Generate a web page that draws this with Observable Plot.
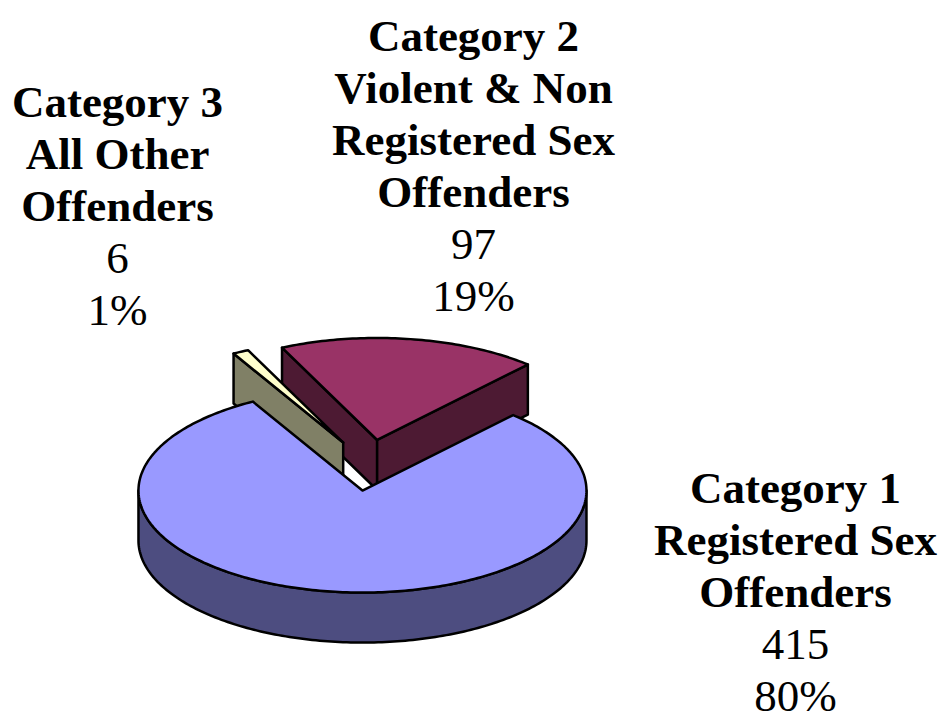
<!DOCTYPE html>
<html>
<head>
<meta charset="utf-8">
<script src="https://cdn.jsdelivr.net/npm/d3@7"></script>
<script src="https://cdn.jsdelivr.net/npm/@observablehq/plot@0.6"></script>
<style>
  html, body { margin: 0; padding: 0; background: #fff; }
  #chart svg { display: block; }
</style>
</head>
<body>
<div id="chart"></div>
<script>
// ---- data ----
const categories = ["Category 1", "Category 2", "Category 3"];
const descriptions = ["Registered Sex\nOffenders", "Violent & Non\nRegistered Sex\nOffenders", "All Other\nOffenders"];
const counts = [415, 97, 6];
const percents = ["80%", "19%", "1%"];

// ---- styles ----
const topColors = ["#9999FF", "#993366", "#FFFFCC"];
const sideColors = ["#4D4D80", "#4D1A33", "#808066"];

// ---- layout ----
const W = 944, H = 711;
const CX = 368.3, CY = 464.7, RX = 224, RY = 102, DEPTH = 50, EXPLODE = 0.25;
const FIRST_ANGLE = 330.7 * Math.PI / 180; // slices run counter-clockwise from here
const labelAnchors = [{x: 795, y: 502}, {x: 473, y: 50}, {x: 117, y: 116}];
const LINE = 52;

const arcs = d3.pie().sort(null).startAngle(FIRST_ANGLE).endAngle(FIRST_ANGLE - 2 * Math.PI)(counts);
const deg = Math.PI / 180;

const slices = arcs.map((a, i) => {
  const lo = Math.min(a.startAngle, a.endAngle), hi = Math.max(a.startAngle, a.endAngle);
  const mid = (lo + hi) / 2;
  const ox = EXPLODE * RX * Math.sin(mid), oy = -EXPLODE * RY * Math.cos(mid);
  const pt = (t, h) => ({x: CX + ox + RX * Math.sin(t), y: CY + oy - RY * Math.cos(t) + DEPTH * h});
  const apex = h => ({x: CX + ox, y: CY + oy + DEPTH * h});
  const arcPts = (a0, a1, h) => {
    const n = Math.max(2, Math.ceil(Math.abs(a1 - a0) / deg));
    return d3.range(n + 1).map(k => pt(a0 + (a1 - a0) * k / n, h));
  };
  const faces = [];
  // radial faces
  if (Math.sin(lo) < 0) faces.push({fill: sideColors[i], pts: [apex(0), pt(lo, 0), pt(lo, 1), apex(1), apex(0)]});
  if (Math.sin(hi) > 0) faces.push({fill: sideColors[i], pts: [apex(0), pt(hi, 0), pt(hi, 1), apex(1), apex(0)]});
  // outer (front) side
  for (const s of [-360, 0, 360]) {
    const f0 = Math.max(lo, (90 + s) * deg), f1 = Math.min(hi, (270 + s) * deg);
    if (f1 > f0) {
      const top = arcPts(f0, f1, 0), bot = arcPts(f1, f0, 1);
      faces.push({fill: sideColors[i], pts: [...top, ...bot, top[0]]});
    }
  }
  // top face
  faces.push({fill: topColors[i], pts: [apex(0), ...arcPts(lo, hi, 0), apex(0)]});
  return {i, oy, faces};
});

// painter's order: back slices first
slices.sort((a, b) => a.oy - b.oy);
const faceMarks = slices.flatMap(s => s.faces.map(f =>
  Plot.line(f.pts, {x: "x", y: "y", fill: f.fill, stroke: "black", strokeWidth: 2.5, strokeLinejoin: "round", curve: "linear"})
));

// labels
const boldLines = [], regLines = [];
categories.forEach((c, i) => {
  const b = [c, ...descriptions[i].split("\n")];
  const r = [String(counts[i]), percents[i]];
  const {x, y} = labelAnchors[i];
  b.forEach((t, k) => boldLines.push({x, y: y + k * LINE, text: t}));
  r.forEach((t, k) => regLines.push({x, y: y + (b.length + k) * LINE, text: t}));
});
const font = {fontFamily: "'Liberation Serif', 'Times New Roman', serif", fontSize: 45, textAnchor: "middle", lineAnchor: "bottom", fill: "black"};

const chart = Plot.plot({
  width: W, height: H, margin: 0,
  x: {domain: [0, W], range: [0, W], axis: null},
  y: {domain: [0, H], range: [0, H], axis: null},
  style: {background: "white", overflow: "visible"},
  marks: [
    ...faceMarks,
    Plot.text(boldLines, {x: "x", y: "y", text: "text", fontWeight: "bold", ...font}),
    Plot.text(regLines, {x: "x", y: "y", text: "text", ...font})
  ]
});
document.getElementById("chart").appendChild(chart);
</script>
</body>
</html>
